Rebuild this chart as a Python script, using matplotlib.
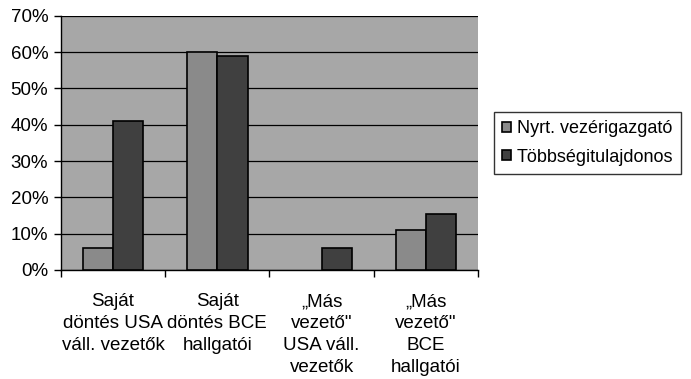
import numpy as np
import matplotlib.pyplot as plt
from matplotlib.ticker import MultipleLocator, FuncFormatter

plt.rcParams['font.family'] = ['Liberation Sans', 'DejaVu Sans']

categories = ['Saját\ndöntés USA\nváll. vezetők',
              'Saját\ndöntés BCE\nhallgatói',
              '„Más\nvezető"\nUSA váll.\nvezetők',
              '„Más\nvezető"\nBCE\nhallgatói']
nyrt = [6, 60, 0, 11]
tobbseg = [41, 59, 6, 15.5]
series_names = ['Nyrt. vezérigazgató', 'Többségitulajdonos']

fig = plt.figure(figsize=(6.91, 3.79), dpi=100)
ax = fig.add_axes([0.088, 0.288, 0.604, 0.670])
ax.set_facecolor('#a7a7a7')

x = np.arange(len(categories))
w = 0.29
# no outline for empty bars
edge1 = ['black' if v > 0 else 'none' for v in nyrt]
edge2 = ['black' if v > 0 else 'none' for v in tobbseg]
ax.bar(x - w/2, nyrt, w, color='#8a8a8a', edgecolor=edge1, linewidth=1.2,
       label=series_names[0], zorder=3)
ax.bar(x + w/2, tobbseg, w, color='#404040', edgecolor=edge2, linewidth=1.2,
       label=series_names[1], zorder=3)

ax.set_xlim(-0.5, 3.5)
ax.set_ylim(0, 70)
ax.yaxis.set_major_locator(MultipleLocator(10))
ax.yaxis.set_major_formatter(FuncFormatter(lambda v, p: f'{v:.0f}%'))
ax.grid(axis='y', color='black', linewidth=0.9, zorder=1)

ax.set_xticks(x)
ax.set_xticklabels(categories, fontsize=13.5, linespacing=1.37)
ax.tick_params(axis='x', length=0, pad=17)
ax.set_xticks(np.arange(-0.5, 4.0, 1), minor=True)
ax.tick_params(axis='x', which='minor', length=5, width=1)
ax.tick_params(axis='y', labelsize=13.5, length=5, width=1, pad=4)

for s in ['top', 'right']:
    ax.spines[s].set_visible(False)
ax.spines['left'].set_linewidth(1)
ax.spines['bottom'].set_linewidth(1)

leg = fig.legend(loc='upper left', bbox_to_anchor=(0.715, 0.704), fontsize=13,
                 frameon=True, fancybox=False, edgecolor='black',
                 handlelength=0.5, handleheight=0.5, handletextpad=0.3,
                 borderpad=0.45, labelspacing=0.62, borderaxespad=0)
leg.get_frame().set_linewidth(1)
for h in leg.legend_handles:
    h.set_edgecolor('black')

fig.savefig('out.png', dpi=100)
